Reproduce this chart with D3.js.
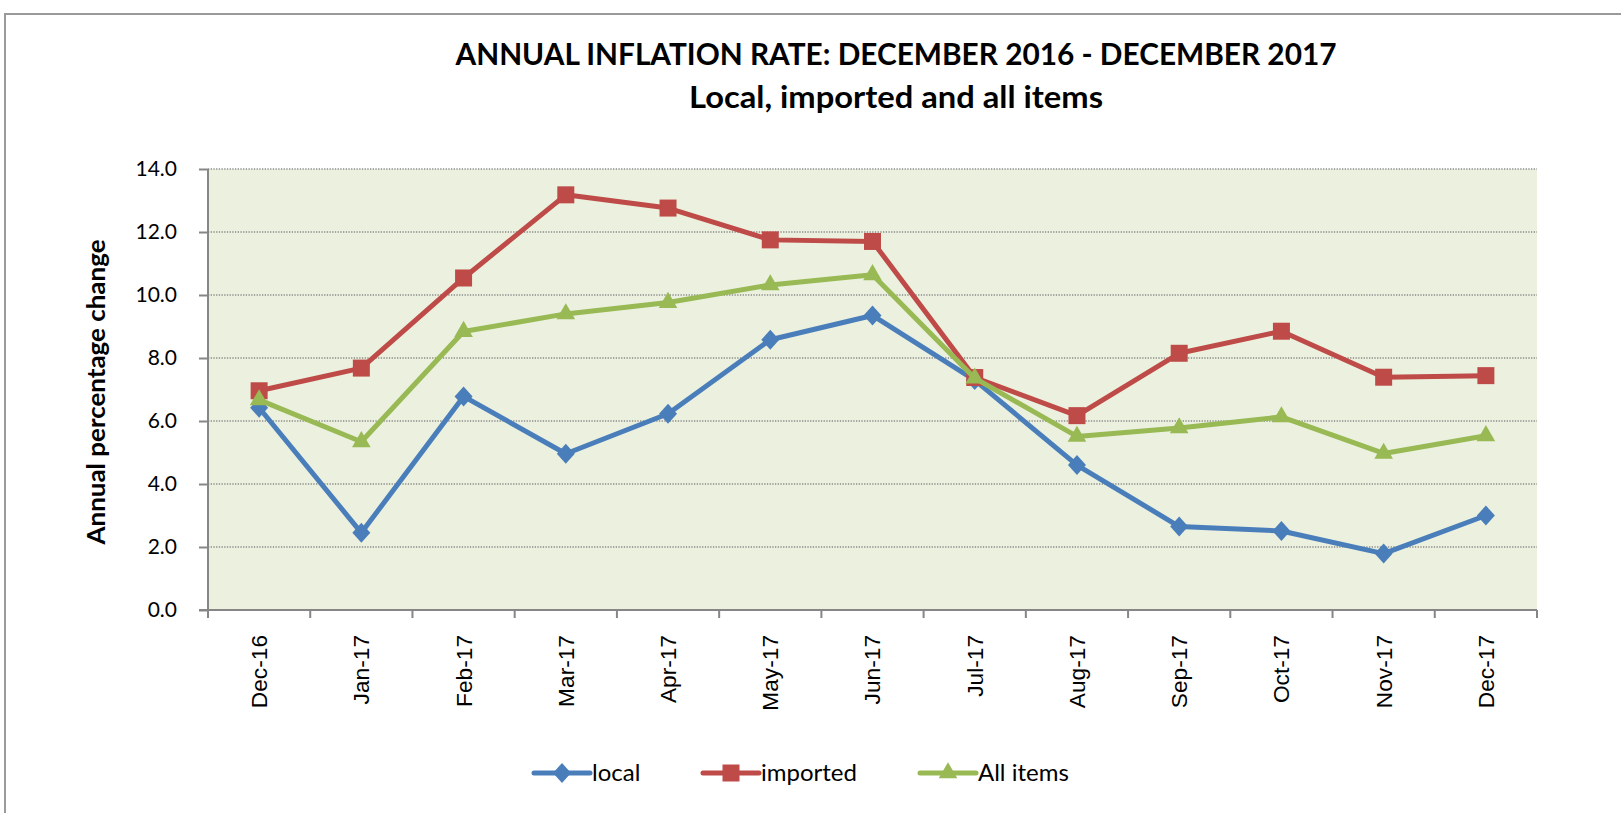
<!DOCTYPE html>
<html>
<head>
<meta charset="utf-8">
<script src="https://cdn.jsdelivr.net/npm/d3@7"></script>
<style>
  html, body { margin: 0; padding: 0; background: #fff; overflow: hidden; }
  svg { display: block; }
</style>
</head>
<body>
<div id="chart"></div>
<script>
// ---------------------------------------------------------------------------
// Data
// ---------------------------------------------------------------------------
const categories = ['Dec-16', 'Jan-17', 'Feb-17', 'Mar-17', 'Apr-17', 'May-17', 'Jun-17',
                    'Jul-17', 'Aug-17', 'Sep-17', 'Oct-17', 'Nov-17', 'Dec-17'];
const localValues    = [6.42, 2.45, 6.78, 4.96, 6.23, 8.58, 9.35, 7.30, 4.60, 2.65, 2.51, 1.79, 3.00];
const importedValues = [6.96, 7.68, 10.54, 13.18, 12.76, 11.75, 11.70, 7.38, 6.17, 8.15, 8.85, 7.39, 7.44];
const allItemsValues = [6.67, 5.34, 8.84, 9.40, 9.76, 10.32, 10.64, 7.36, 5.51, 5.78, 6.13, 4.97, 5.53];
const yTicks = [0, 2, 4, 6, 8, 10, 12, 14];

const titleLines = ['ANNUAL INFLATION RATE: DECEMBER 2016 - DECEMBER 2017', 'Local, imported and all items'];
const yAxisTitle = 'Annual percentage change';

const series = [
  { name: 'local',     values: localValues,    color: '#4A7EBB', marker: 'diamond' },
  { name: 'imported',  values: importedValues, color: '#BE4B48', marker: 'square' },
  { name: 'All items', values: allItemsValues, color: '#98B954', marker: 'triangle' }
];

// ---------------------------------------------------------------------------
// Layout
// ---------------------------------------------------------------------------
const width = 1621, height = 813;
const plot = { left: 208, right: 1537, top: 169, bottom: 610 };
const axisColor = '#868686';
const labelFont = 'Lato, "Open Sans", sans-serif';

const svg = d3.select('#chart').append('svg')
  .attr('width', width)
  .attr('height', height);

// Outer chart frame (runs off the right / bottom edge)
svg.append('rect')
  .attr('x', 5).attr('y', 14)
  .attr('width', 1700).attr('height', 900)
  .attr('fill', '#fff')
  .attr('stroke', '#9a9a9a')
  .attr('stroke-width', 2);

// Scales
const x = d3.scaleBand().domain(categories).range([plot.left, plot.right]).padding(0);
const y = d3.scaleLinear().domain([0, 14]).range([plot.bottom, plot.top]);
const cx = d => x(d) + x.bandwidth() / 2;

// Plot background
svg.append('rect')
  .attr('x', plot.left).attr('y', plot.top)
  .attr('width', plot.right - plot.left).attr('height', plot.bottom - plot.top)
  .attr('fill', '#EBF1DE');

// Dotted gridlines
svg.append('g').selectAll('line')
  .data(yTicks.filter(t => t > 0))
  .join('line')
  .attr('x1', plot.left).attr('x2', plot.right)
  .attr('y1', d => y(d)).attr('y2', d => y(d))
  .attr('stroke', '#8a8a8a')
  .attr('stroke-width', 1.3)
  .attr('stroke-dasharray', '1.3,1.4');

// Y axis
const yAxis = svg.append('g')
  .attr('transform', `translate(${plot.left},0)`)
  .call(d3.axisLeft(y).tickValues(yTicks).tickSize(9).tickPadding(22).tickFormat(d3.format('.1f')));
yAxis.select('.domain').attr('stroke', axisColor).attr('stroke-width', 2).attr('d', `M0,${plot.top}V${plot.bottom}`);
yAxis.selectAll('.tick line').attr('stroke', axisColor).attr('stroke-width', 2);
yAxis.selectAll('.tick text')
  .attr('fill', '#000')
  .attr('font-family', labelFont)
  .attr('font-size', '21px');

// X axis (ticks at category boundaries)
const xAxis = svg.append('g');
xAxis.append('line')
  .attr('x1', plot.left - 9).attr('x2', plot.right)
  .attr('y1', plot.bottom).attr('y2', plot.bottom)
  .attr('stroke', axisColor).attr('stroke-width', 2);
const boundaries = categories.map(c => x(c)).concat([plot.right]);
xAxis.selectAll('line.xtick')
  .data(boundaries)
  .join('line')
  .attr('class', 'xtick')
  .attr('x1', d => d).attr('x2', d => d)
  .attr('y1', plot.bottom).attr('y2', plot.bottom + 8)
  .attr('stroke', axisColor).attr('stroke-width', 2);
xAxis.selectAll('text')
  .data(categories)
  .join('text')
  .attr('transform', d => `translate(${cx(d)},635) rotate(-90)`)
  .attr('text-anchor', 'end')
  .attr('dy', '0.35em')
  .attr('fill', '#000')
  .attr('font-family', '"Liberation Sans", Arial, sans-serif')
  .attr('font-size', '22.7px')
  .text(d => d);

// Y axis title
svg.append('text')
  .attr('transform', 'translate(105,392) rotate(-90)')
  .attr('text-anchor', 'middle')
  .attr('font-family', labelFont)
  .attr('font-weight', 700)
  .attr('font-size', '24px')
  .attr('textLength', 305)
  .attr('lengthAdjust', 'spacingAndGlyphs')
  .text(yAxisTitle);

// Title
svg.append('text')
  .attr('x', 896).attr('y', 65)
  .attr('text-anchor', 'middle')
  .attr('font-family', labelFont)
  .attr('font-weight', 700)
  .attr('font-size', '30px')
  .attr('textLength', 881)
  .attr('lengthAdjust', 'spacingAndGlyphs')
  .text(titleLines[0]);
svg.append('text')
  .attr('x', 896).attr('y', 108)
  .attr('text-anchor', 'middle')
  .attr('font-family', labelFont)
  .attr('font-weight', 700)
  .attr('font-size', '30px')
  .attr('textLength', 414)
  .attr('lengthAdjust', 'spacingAndGlyphs')
  .text(titleLines[1]);

// ---------------------------------------------------------------------------
// Markers
// ---------------------------------------------------------------------------
function markerPath(type) {
  if (type === 'diamond') return 'M0,-10L9,0L0,10L-9,0Z';
  if (type === 'square') return d3.symbol(d3.symbolSquare, 17 * 17)();
  return d3.symbol(d3.symbolTriangle, 150)();
}

// Lines + markers
const line = d3.line().x((d, i) => cx(categories[i])).y(d => y(d));

series.forEach(s => {
  const g = svg.append('g').attr('class', 'series');
  g.append('path')
    .datum(s.values)
    .attr('d', line)
    .attr('fill', 'none')
    .attr('stroke', s.color)
    .attr('stroke-width', 5)
    .attr('stroke-linejoin', 'round')
    .attr('stroke-linecap', 'round');
  g.selectAll('path.mk')
    .data(s.values)
    .join('path')
    .attr('class', 'mk')
    .attr('d', markerPath(s.marker))
    .attr('transform', (d, i) => `translate(${cx(categories[i])},${y(d)})`)
    .attr('fill', s.color);
});

// ---------------------------------------------------------------------------
// Legend
// ---------------------------------------------------------------------------
const legendY = 773;
const legendX = [534, 703, 920];
const legend = svg.append('g').selectAll('g')
  .data(series)
  .join('g')
  .attr('transform', (d, i) => `translate(${legendX[i]},${legendY})`);
legend.append('line')
  .attr('x1', 0).attr('x2', 56)
  .attr('stroke', d => d.color)
  .attr('stroke-width', 5)
  .attr('stroke-linecap', 'round');
legend.append('path')
  .attr('d', d => markerPath(d.marker))
  .attr('transform', 'translate(28,0)')
  .attr('fill', d => d.color);
legend.append('text')
  .attr('x', 58)
  .attr('dy', '0.35em')
  .attr('font-family', labelFont)
  .attr('font-size', '24px')
  .text(d => d.name);
</script>
</body>
</html>
